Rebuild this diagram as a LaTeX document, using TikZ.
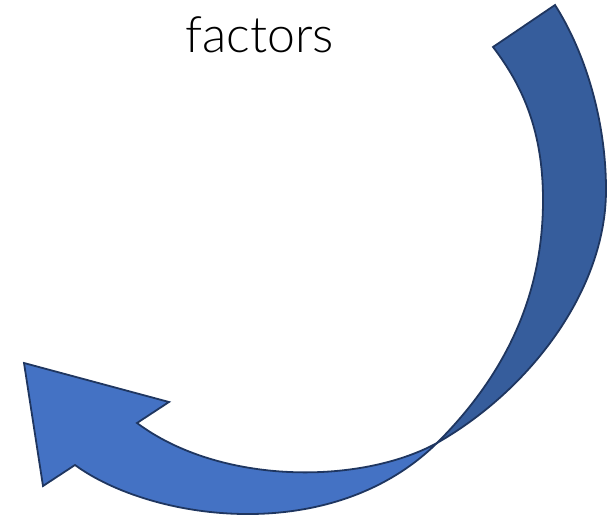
\documentclass[tikz,border=0pt]{standalone}
\usepackage{fontspec}
\setmainfont{Lato}[UprightFont={* Light}]
\definecolor{backblue}{HTML}{365D9C}
\definecolor{frontblue}{HTML}{4472C4}
\definecolor{edgeblue}{HTML}{1F3660}
\tikzset{
  ribbon/.style={draw=edgeblue, line width=1.8pt, line join=miter},
  labeltext/.style={font=\fontsize{50}{60}\selectfont, text=black, inner sep=0pt}
}
\begin{document}
\begin{tikzpicture}[x=1pt,y=-1pt]
\useasboundingbox (0,0) rectangle (615,518);
\coordinate (cross) at (437,443);
\coordinate (tailin) at (493,47);
\coordinate (tailout) at (555,5);
% back part of the ribbon
\draw[ribbon, fill=backblue] (tailin) -- (tailout)
  .. controls (585,52) and (606,120) .. (606,190)
  .. controls (606,290) and (530,390) .. (cross)
  .. controls (510,370) and (543,290) .. (543,200)
  .. controls (543,130) and (522,85) .. (tailin)
  -- cycle;
% front part with the arrow head
\draw[ribbon, fill=frontblue] (cross)
  .. controls (360,485) and (220,485) .. (137,423)
  -- (169,402) -- (24,363) -- (43,486) -- (75,465)
  .. controls (150,520) and (330,548) .. (cross)
  -- cycle;
\node[labeltext, anchor=base] (lbl) at (260,53) {factors};
\end{tikzpicture}
\end{document}
